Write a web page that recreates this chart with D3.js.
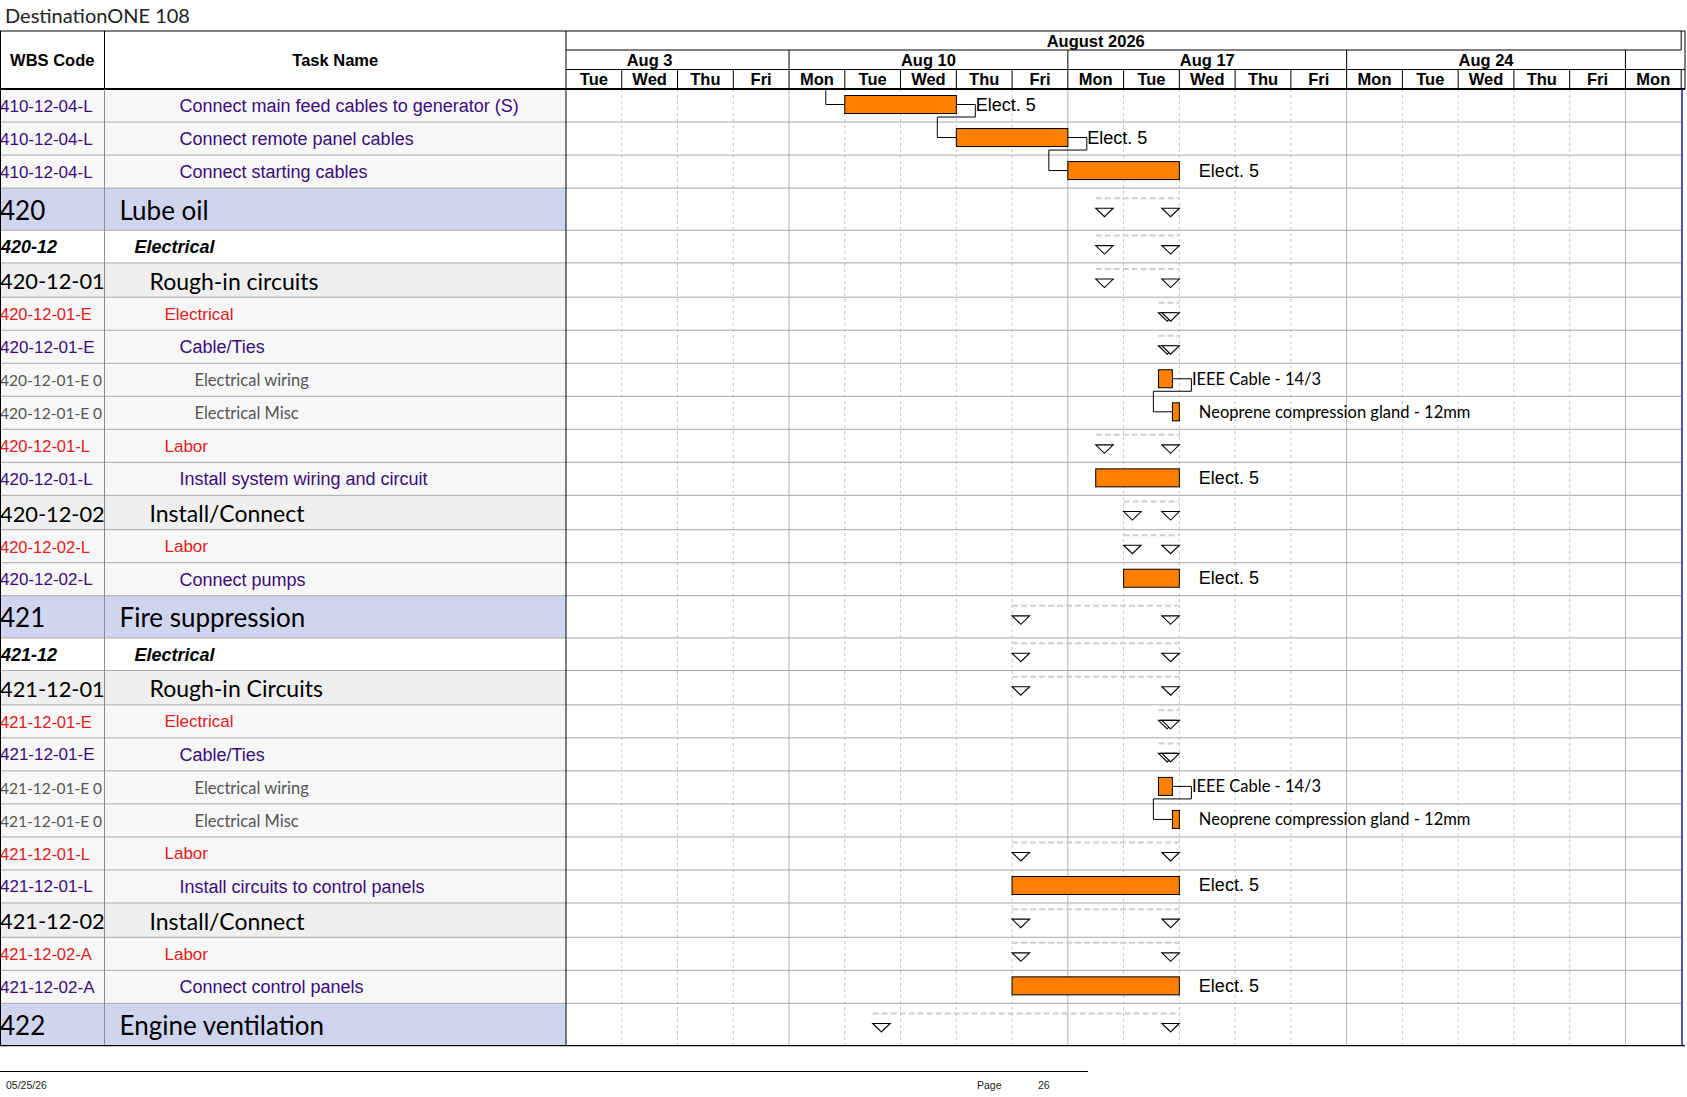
<!DOCTYPE html>
<html lang="en">
<head>
<meta charset="utf-8">
<title>DestinationONE 108</title>
<script src="https://cdnjs.cloudflare.com/ajax/libs/d3/7.8.5/d3.min.js"></script>
<style>
  body { margin: 0; background: #fff; }
  svg { display: block; }
</style>
</head>
<body>
<div id="chart"></div>
<script>
// ---- data (one entry per table row) ----
var wbsCodes = ["410-12-04-L", "410-12-04-L", "410-12-04-L", "420", "420-12", "420-12-01",
  "420-12-01-E", "420-12-01-E", "420-12-01-E 0", "420-12-01-E 0", "420-12-01-L", "420-12-01-L",
  "420-12-02", "420-12-02-L", "420-12-02-L", "421", "421-12", "421-12-01", "421-12-01-E",
  "421-12-01-E", "421-12-01-E 0", "421-12-01-E 0", "421-12-01-L", "421-12-01-L", "421-12-02",
  "421-12-02-A", "421-12-02-A", "422"];

var taskNames = ["Connect main feed cables to generator (S)", "Connect remote panel cables",
  "Connect starting cables", "Lube oil", "Electrical", "Rough-in circuits", "Electrical",
  "Cable/Ties", "Electrical wiring", "Electrical Misc", "Labor", "Install system wiring and circuit",
  "Install/Connect", "Labor", "Connect pumps", "Fire suppression", "Electrical", "Rough-in Circuits",
  "Electrical", "Cable/Ties", "Electrical wiring", "Electrical Misc", "Labor",
  "Install circuits to control panels", "Install/Connect", "Labor", "Connect control panels",
  "Engine ventilation"];

// text style of the row
var rowKinds = ["task", "task", "task", "top", "sub", "group", "red", "task", "item", "item", "red", "task",
  "group", "red", "task", "top", "sub", "group", "red", "task", "item", "item", "red", "task",
  "group", "red", "task", "top"];

// what is drawn in the gantt: task bar or summary
var markTypes = ["bar", "bar", "bar", "sum", "sum", "sum", "sum", "sum", "bar", "bar", "sum", "bar",
  "sum", "sum", "bar", "sum", "sum", "sum", "sum", "sum", "bar", "bar", "sum", "bar",
  "sum", "sum", "bar", "sum"];

// start in working days counted from Tue Aug 4 2026, duration in working days
var taskStarts = [5, 7, 9, 9.5, 9.5, 9.5, 10.625, 10.625, 10.625, 10.875, 9.5, 9.5,
  10, 10, 10, 8, 8, 8, 10.625, 10.625, 10.625, 10.875, 8, 8, 8, 8, 8, 5.5];
var taskDurations = [2, 2, 2, 1.5, 1.5, 1.5, 0.375, 0.375, 0.25, 0.125, 1.5, 1.5,
  1, 1, 1, 3, 3, 3, 0.375, 0.375, 0.25, 0.125, 3, 3, 3, 3, 3, 5.5];

var barLabels = ["Elect. 5", "Elect. 5", "Elect. 5", "", "", "", "", "",
  "IEEE Cable - 14/3", "Neoprene compression gland - 12mm", "", "Elect. 5", "", "", "Elect. 5",
  "", "", "", "", "", "IEEE Cable - 14/3", "Neoprene compression gland - 12mm", "", "Elect. 5",
  "", "", "Elect. 5", ""];

// finish-to-start links [from row, to row]; rows whose predecessor is on the previous page
var links = [[0, 1], [1, 2], [8, 9], [20, 21]];
var linksFromAbove = [0];

// timescale
var dayLabels = ["Tue", "Wed", "Thu", "Fri", "Mon", "Tue", "Wed", "Thu", "Fri", "Mon",
  "Tue", "Wed", "Thu", "Fri", "Mon", "Tue", "Wed", "Thu", "Fri", "Mon"];
var weekLabels = ["Aug 3", "Aug 10", "Aug 17", "Aug 24", "Aug 31"];
var weekStarts = [-1, 4, 9, 14, 19];
var monthLabel = "August 2026";
var monthSpan = [-1, 20];

var pageTitle = "DestinationONE 108";
var footerDate = "05/25/26";
var footerPage = "26";

// ---- layout ----
var W = 1687, H = 1097;
var ARIAL = "'Liberation Sans', Arial, sans-serif";
var LATO = "Lato, 'Open Sans', sans-serif";
var colWbs = 104.5, colChart = 566, chartRight = 1681.2, pageRight = 1685;
var headTop = 31, monthBottom = 50, weekBottom = 69.5, headBottom = 89;
var indent0 = 119.5, indentStep = 15;

var kindStyle = {
  top:   { h: 42.2,  bg: "#cfd5ee", family: LATO,  size: 26,   wbsSize: 26,   weight: "normal", italic: false, color: "#000000", level: 0, wbsX: 0 },
  sub:   { h: 32.6,  bg: "#ffffff", family: ARIAL, size: 18,   wbsSize: 18,   weight: "bold",   italic: true,  color: "#000000", level: 1, wbsX: 1 },
  group: { h: 34.3,  bg: "#efefef", family: LATO,  size: 23,   wbsSize: 21.8, weight: "normal", italic: false, color: "#000000", level: 2, wbsX: 0 },
  red:   { h: 33.03, bg: "#f7f7f7", family: ARIAL, size: 17,   wbsSize: 16.5, weight: "normal", italic: false, color: "#e0201e", level: 3, wbsX: 0 },
  task:  { h: 33.03, bg: "#f7f7f7", family: ARIAL, size: 18,   wbsSize: 17,   weight: "normal", italic: false, color: "#3a0e7a", level: 4, wbsX: 0 },
  item:  { h: 33.03, bg: "#f7f7f7", family: LATO,  size: 16.5, wbsSize: 15.5, weight: "normal", italic: false, color: "#555555", level: 5, wbsX: 0 }
};

var rowTop = [], acc = headBottom;
rowKinds.forEach(function (k) { rowTop.push(acc); acc += kindStyle[k].h; });
var bodyBottom = acc;
function rowH(i) { return kindStyle[rowKinds[i]].h; }
function rowMid(i) { return rowTop[i] + rowH(i) / 2; }

var x = d3.scaleLinear().domain([0, dayLabels.length]).range([colChart, chartRight]);

var svg = d3.select("#chart").append("svg").attr("width", W).attr("height", H);
var defs = svg.append("defs");
defs.append("clipPath").attr("id", "clipWbs").append("rect")
  .attr("x", 0).attr("y", 0).attr("width", colWbs - 0.5).attr("height", H);
defs.append("clipPath").attr("id", "clipTask").append("rect")
  .attr("x", colWbs).attr("y", 0).attr("width", colChart - colWbs).attr("height", H);
defs.append("clipPath").attr("id", "clipChart").append("rect")
  .attr("x", colChart).attr("y", 0).attr("width", pageRight - colChart).attr("height", H);

// title
svg.append("text").attr("x", 5).attr("y", 15)
  .attr("dominant-baseline", "central")
  .style("font-family", LATO).style("font-size", "20px").style("fill", "#222")
  .text(pageTitle);

// ---- table row backgrounds ----
svg.append("g").selectAll("rect").data(rowKinds).join("rect")
  .attr("x", 0).attr("width", colChart)
  .attr("y", function (d, i) { return rowTop[i]; })
  .attr("height", function (d) { return kindStyle[d].h; })
  .attr("fill", function (d) { return kindStyle[d].bg; });

// ---- chart grid ----
var grid = svg.append("g").attr("clip-path", "url(#clipChart)");
var dayLines = d3.range(1, dayLabels.length).filter(function (i) { return weekStarts.indexOf(i) < 0; });
grid.selectAll("line.day").data(dayLines).join("line")
  .attr("x1", function (d) { return x(d); }).attr("x2", function (d) { return x(d); })
  .attr("y1", headBottom).attr("y2", bodyBottom)
  .attr("stroke", "#c4c4c4").attr("stroke-width", 1).attr("stroke-dasharray", "3,3");
grid.selectAll("line.week").data(weekStarts.filter(function (d) { return d > 0 && d < dayLabels.length; })).join("line")
  .attr("x1", function (d) { return x(d); }).attr("x2", function (d) { return x(d); })
  .attr("y1", headBottom).attr("y2", bodyBottom)
  .attr("stroke", "#b4b4b4").attr("stroke-width", 1);

// row separators
svg.append("g").selectAll("line").data(rowTop.slice(1)).join("line")
  .attr("x1", 0).attr("x2", chartRight)
  .attr("y1", function (d) { return d; }).attr("y2", function (d) { return d; })
  .attr("stroke", "#a8a8a8").attr("stroke-width", 1);

// ---- gantt marks ----
var gantt = svg.append("g").attr("clip-path", "url(#clipChart)");
var rows = d3.range(rowKinds.length);
var sumRows = rows.filter(function (i) { return markTypes[i] === "sum"; });
var barRows = rows.filter(function (i) { return markTypes[i] === "bar"; });
var triW = 17.5, triH = 8.5;

gantt.selectAll("line.sumline").data(sumRows).join("line")
  .attr("x1", function (i) { return x(taskStarts[i]); })
  .attr("x2", function (i) { return x(taskStarts[i] + taskDurations[i]); })
  .attr("y1", function (i) { return rowMid(i) - 11; })
  .attr("y2", function (i) { return rowMid(i) - 11; })
  .attr("stroke", "#cfcfcf").attr("stroke-width", 2).attr("stroke-dasharray", "6,3");

function tri(x0, y0) {
  return "M" + x0 + "," + y0 + "H" + (x0 + triW) + "L" + (x0 + triW / 2) + "," + (y0 + triH) + "Z";
}
gantt.selectAll("path.tstart").data(sumRows).join("path")
  .attr("d", function (i) { return tri(x(taskStarts[i]), rowMid(i) - 1); })
  .attr("fill", "#fff").attr("stroke", "#000").attr("stroke-width", 1.1);
gantt.selectAll("path.tend").data(sumRows).join("path")
  .attr("d", function (i) { return tri(x(taskStarts[i] + taskDurations[i]) - triW, rowMid(i) - 1); })
  .attr("fill", "#fff").attr("stroke", "#000").attr("stroke-width", 1.1);

// links
function linkPath(a, b) {
  var xa = x(taskStarts[a] + taskDurations[a]), ya = rowMid(a) - 1;
  var xb = x(taskStarts[b]), yb = rowMid(b) - 1;
  var yTurn = rowTop[a] + rowH(a) - 5;
  return "M" + xa + "," + ya + "H" + (xa + 19) + "V" + yTurn + "H" + (xb - 19) + "V" + yb + "H" + xb;
}
gantt.selectAll("path.link").data(links).join("path")
  .attr("d", function (d) { return linkPath(d[0], d[1]); })
  .attr("fill", "none").attr("stroke", "#000").attr("stroke-width", 1);
gantt.selectAll("path.linkup").data(linksFromAbove).join("path")
  .attr("d", function (b) {
    var xb = x(taskStarts[b]);
    return "M" + (xb - 19) + "," + headBottom + "V" + (rowMid(b) - 1) + "H" + xb;
  })
  .attr("fill", "none").attr("stroke", "#000").attr("stroke-width", 1);

gantt.selectAll("rect.bar").data(barRows).join("rect")
  .attr("x", function (i) { return x(taskStarts[i]); })
  .attr("width", function (i) { return x(taskStarts[i] + taskDurations[i]) - x(taskStarts[i]); })
  .attr("y", function (i) { return rowMid(i) - 10; })
  .attr("height", 18)
  .attr("fill", "#ff8000").attr("stroke", "#000").attr("stroke-width", 1);

gantt.selectAll("text.lbl").data(rows.filter(function (i) { return barLabels[i]; })).join("text")
  .attr("x", function (i) { return x(taskStarts[i] + taskDurations[i]) + 19.5; })
  .attr("y", function (i) { return rowMid(i) - 1; })
  .attr("dominant-baseline", "central")
  .style("font-family", function (i) { return rowKinds[i] === "item" ? LATO : ARIAL; })
  .style("font-size", function (i) { return rowKinds[i] === "item" ? "16.5px" : "18px"; })
  .style("fill", "#000")
  .text(function (i) { return barLabels[i]; });

// ---- table text ----
function styleText(sel, sizeKey) {
  sel.attr("dominant-baseline", "central")
    .style("font-family", function (i) { return kindStyle[rowKinds[i]].family; })
    .style("font-size", function (i) { return kindStyle[rowKinds[i]][sizeKey] + "px"; })
    .style("font-weight", function (i) { return kindStyle[rowKinds[i]].weight; })
    .style("font-style", function (i) { return kindStyle[rowKinds[i]].italic ? "italic" : "normal"; })
    .style("fill", function (i) { return kindStyle[rowKinds[i]].color; });
}
svg.append("g").attr("clip-path", "url(#clipWbs)")
  .selectAll("text").data(rows).join("text")
  .attr("x", function (i) { return kindStyle[rowKinds[i]].wbsX; })
  .attr("y", function (i) { return rowMid(i) + 0.5; })
  .call(styleText, "wbsSize")
  .text(function (i) { return wbsCodes[i]; });
svg.append("g").attr("clip-path", "url(#clipTask)")
  .selectAll("text").data(rows).join("text")
  .attr("x", function (i) { return indent0 + indentStep * kindStyle[rowKinds[i]].level; })
  .attr("y", function (i) { return rowMid(i) + 0.5; })
  .call(styleText, "size")
  .text(function (i) { return taskNames[i]; });

// ---- header ----
var head = svg.append("g");
function headText(g, tx, ty, txt) {
  g.append("text").attr("x", tx).attr("y", ty)
    .attr("text-anchor", "middle").attr("dominant-baseline", "central")
    .style("font-family", ARIAL).style("font-size", "16.5px").style("font-weight", "bold")
    .style("fill", "#000").text(txt);
}
headText(head, colWbs / 2, (headTop + headBottom) / 2, "WBS Code");
headText(head, (colWbs + colChart) / 2, (headTop + headBottom) / 2, "Task Name");

var th = svg.append("g").attr("clip-path", "url(#clipChart)");
headText(th, x((monthSpan[0] + monthSpan[1]) / 2), (headTop + monthBottom) / 2, monthLabel);
weekLabels.forEach(function (w, k) {
  // the last week label would sit past the page edge
  if (x(weekStarts[k] + 2.5) < pageRight) headText(th, x(weekStarts[k] + 2.5), (monthBottom + weekBottom) / 2, w);
});
dayLabels.forEach(function (d, i) {
  headText(th, x(i + 0.5), (weekBottom + headBottom) / 2, d);
});

function hline(g, x1, x2, y, color, w) {
  g.append("line").attr("x1", x1).attr("x2", x2).attr("y1", y).attr("y2", y)
    .attr("stroke", color).attr("stroke-width", w || 1);
}
function vline(g, xx, y1, y2, color, w) {
  g.append("line").attr("x1", xx).attr("x2", xx).attr("y1", y1).attr("y2", y2)
    .attr("stroke", color).attr("stroke-width", w || 1);
}
var lines = svg.append("g");
hline(lines, 0, pageRight, headTop, "#000");
hline(lines, colChart, x(monthSpan[1]), monthBottom, "#000");
hline(lines, colChart, pageRight, weekBottom, "#000");
vline(lines, x(monthSpan[1]), headTop, monthBottom, "#000");
weekStarts.forEach(function (ws) {
  if (ws > 0 && ws <= dayLabels.length) vline(lines, x(ws), monthBottom, weekBottom, "#000");
});
d3.range(1, dayLabels.length + 1).forEach(function (i) {
  vline(lines, x(i), weekBottom, headBottom, "#000");
});
vline(lines, pageRight, headTop, headBottom, "#000");
hline(lines, 0, pageRight, headBottom, "#000", 2);
vline(lines, 0.5, headTop, bodyBottom, "#000");
vline(lines, colWbs, headTop, headBottom, "#000");
vline(lines, colWbs, headBottom, bodyBottom, "#8c8c8c");
vline(lines, colChart, headTop, bodyBottom, "#000");
vline(lines, chartRight + 0.8, headBottom, bodyBottom, "#1a1aa0", 1.5);
hline(lines, 0, pageRight, bodyBottom, "#000", 1.2);

// ---- footer ----
hline(svg, 0, 1088, 1071.5, "#000");
function footText(tx, txt) {
  svg.append("text").attr("x", tx).attr("y", 1085).attr("dominant-baseline", "central")
    .style("font-family", ARIAL).style("font-size", "10.5px").style("fill", "#222").text(txt);
}
footText(6, footerDate);
footText(977, "Page");
footText(1038, footerPage);
</script>
</body>
</html>
